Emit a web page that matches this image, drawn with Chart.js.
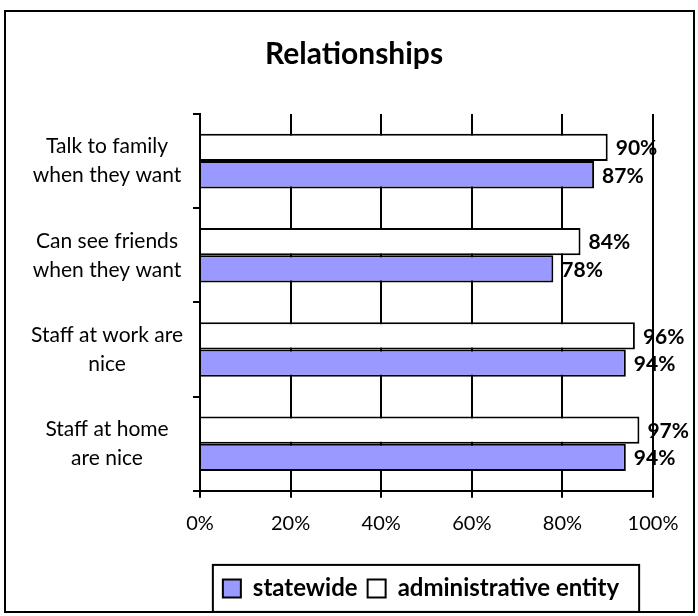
<!DOCTYPE html>
<html lang="en">
<head>
  <meta charset="UTF-8" />
  <title>Relationships</title>
  <script src="https://cdn.jsdelivr.net/npm/chart.js"></script>
  <style>
    body { margin: 0; background: #fff; }
    #wrap { position: relative; width: 698px; height: 616px; }
  </style>
</head>
<body>
  <div id="wrap">
    <canvas id="relChart" width="698" height="616"></canvas>
  </div>
  <script>
    // values
    const categories = [
      ['Talk to family', 'when they want'],
      ['Can see friends', 'when they want'],
      ['Staff at work are', 'nice'],
      ['Staff at home', 'are nice']
    ];
    const adminEntity = [90, 84, 96, 97];
    const statewide = [87, 78, 94, 94];
    const xTicks = [0, 20, 40, 60, 80, 100];

    const FONT = 'Lato, "Open Sans", sans-serif';

    // outer frame, value labels, legend frame, centring of title/legend
    const decor = {
      id: 'decor',
      afterLayout(chart) {
        const tb = chart.titleBlock;
        const ts = 354 - (tb.left + tb.right) / 2;
        tb.left += ts; tb.right += ts;

        const lg = chart.legend;
        const pad = lg.options.labels.padding;
        const lw = lg.lineWidths[0];
        const cx = (lg.left + pad + lg.right - lw) / 2 + lw / 2;
        const ls = 426 - cx;
        lg.left += ls; lg.right += ls;
      },
      beforeDraw(chart) {
        const ctx = chart.ctx;
        ctx.save();
        ctx.fillStyle = '#fff';
        ctx.fillRect(0, 0, chart.width, chart.height);
        ctx.strokeStyle = '#000';
        ctx.lineWidth = 2;
        ctx.strokeRect(5, 11, 689, 601);
        ctx.restore();
      },
      afterDatasetsDraw(chart) {
        const ctx = chart.ctx;
        ctx.save();
        ctx.font = 'bold 21px ' + FONT;
        ctx.fillStyle = '#000';
        ctx.textAlign = 'left';
        ctx.textBaseline = 'middle';
        chart.data.datasets.forEach((ds, i) => {
          chart.getDatasetMeta(i).data.forEach((bar, j) => {
            ctx.fillText(ds.data[j] + '%', bar.x + 8, bar.y + 1);
          });
        });
        ctx.restore();
      },
      afterDraw(chart) {
        const lg = chart.legend;
        const pad = lg.options.labels.padding;
        const lw = lg.lineWidths[0];
        const x0 = (lg.left + pad + lg.right - lw) / 2;
        const cy = lg.top + lg.height / 2;
        const ctx = chart.ctx;
        ctx.save();
        ctx.strokeStyle = '#000';
        ctx.lineWidth = 2;
        ctx.strokeRect(x0 - 10, cy - 23.5, lw + 20, 47);
        ctx.restore();
      }
    };

    new Chart(document.getElementById('relChart'), {
      type: 'bar',
      data: {
        labels: categories,
        datasets: [
          {
            label: 'administrative entity',
            data: adminEntity,
            backgroundColor: '#ffffff',
            borderColor: '#000000',
            borderWidth: 2
          },
          {
            label: 'statewide',
            data: statewide,
            backgroundColor: '#9999ff',
            borderColor: '#000000',
            borderWidth: 2
          }
        ]
      },
      options: {
        indexAxis: 'y',
        responsive: false,
        animation: false,
        devicePixelRatio: 1,
        layout: { padding: { left: 0, right: 45, top: 0, bottom: 5.6 } },
        categoryPercentage: 0.58,
        barPercentage: 1.0,
        plugins: {
          title: {
            display: true,
            text: 'Relationships',
            color: '#000',
            font: { family: FONT, size: 30, weight: 'bold', lineHeight: 1.2 },
            padding: { top: 36, bottom: 42 }
          },
          legend: {
            position: 'bottom',
            reverse: true,
            labels: {
              color: '#000',
              font: { family: FONT, size: 24, weight: 'bold' },
              boxWidth: 18,
              boxHeight: 18,
              padding: 10
            }
          },
          tooltip: { enabled: false }
        },
        scales: {
          x: {
            min: 0,
            max: 100,
            afterBuildTicks(scale) {
              scale.ticks = xTicks.map(v => ({ value: v }));
            },
            afterFit(scale) { scale.height = 75.6; },
            ticks: {
              color: '#000',
              font: { family: FONT, size: 20 },
              padding: 14,
              callback: v => v + '%'
            },
            grid: { color: '#000', lineWidth: 2, tickLength: 7, drawTicks: true },
            border: { display: true, color: '#000', width: 2 }
          },
          y: {
            afterFit(scale) { scale.width = 200; },
            ticks: {
              color: '#000',
              font: { family: FONT, size: 21, lineHeight: 1.38 },
              crossAlign: 'center',
              padding: 10
            },
            grid: { display: true, drawOnChartArea: false, color: '#000', lineWidth: 2, tickLength: 7, offset: true },
            border: { display: true, color: '#000', width: 2 }
          }
        }
      },
      plugins: [decor]
    });
  </script>
</body>
</html>
